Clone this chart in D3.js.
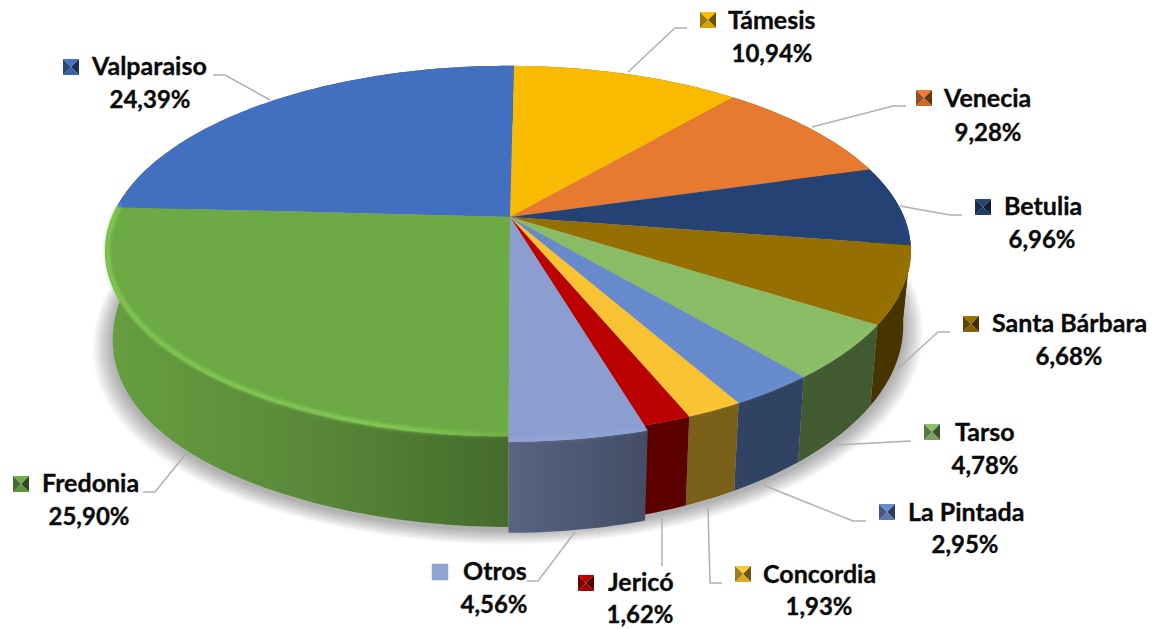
<!DOCTYPE html>
<html><head><meta charset="utf-8">
<style>html,body{margin:0;background:#fff}svg{display:block}text{font-family:Lato,"Open Sans",sans-serif;font-weight:700;fill:#0a0a0a;stroke:#0a0a0a;stroke-width:.35px}.name{font-size:25px}.value{font-size:24px}</style>
<script src="https://cdn.jsdelivr.net/npm/d3@7/dist/d3.min.js"></script>
</head><body><svg id="c" width="1163" height="629"></svg>
<script>
const categories=["Támesis","Venecia","Betulia","Santa Bárbara","Tarso","La Pintada","Concordia","Jericó","Otros","Fredonia","Valparaiso"];
const shares=[10.94,9.28,6.96,6.68,4.78,2.95,1.93,1.62,4.56,25.90,24.39];
const colors=["#ffc000","#ed7d31","#264478","#997300","#8cc168","#698ed0","#ffc733","#c00000","#8fa2d4","#70ad47","#4472c4"];
// layout of the label blocks: swatch left/top, name left/baseline, value centre/baseline, leader polyline
const labelLayout=[
 {s:[700,12],n:[728,29],v:[772,62],l:[[628,72],[675,28],[687,28]]},
 {s:[916,90],n:[944,107],v:[988,141],l:[[812,127],[893,106],[906,106]]},
 {s:[975,199],n:[1004,215],v:[1042,248],l:[[900,206],[950,215],[962,215]]},
 {s:[963,316],n:[992,332],v:[1069,365],l:[[893,373],[938,332],[950,332]]},
 {s:[924,424],n:[955,441],v:[985,474],l:[[836,445],[911,441]]},
 {s:[879,504],n:[908,521],v:[965,553],l:[[763,485],[853,521],[866,521]]},
 {s:[735,566],n:[763,583],v:[819,615],l:[[708,507],[710,583],[722,583]]},
 {s:[578,575],n:[608,591],v:[640,623],l:[[662,518],[662,566]]},
 {s:[432,564],n:[463,580],v:[494,613],l:[[575,532],[538,581],[527,581]]},
 {s:[13,476],n:[42,492],v:[89,525],l:[[188,451],[155,492],[143,492]]},
 {s:[63,59],n:[92,75],v:[150,108],l:[[270,100],[225,75],[213,75]]}
];
const EXPLODED="Otros", EXPLODE_R=1.02;

const svg=d3.select("#c"), defs=svg.append("defs");
const blur=(id,sd)=>defs.append("filter").attr("id",id).attr("x","-20%").attr("y","-20%").attr("width","140%").attr("height","140%").append("feGaussianBlur").attr("stdDeviation",sd);
blur("soft",1.5);

// perspective disks
const persp=0.184;
const topDisk={cx:508,cy:217,bx:396,ay:179,sag:0};
const botDisk={cx:508,cy:288,bx:388.5,ay:195,sag:14};
const apex=[510,217];
function proj(d,a,r){const u=r*Math.sin(a),v=-r*Math.cos(a),w=1-persp*v,su=Math.max(0,-u/w);return [d.cx+d.bx*u/w,d.cy+d.ay*v/w+d.sag*su*su*su];}
const arcPts=(d,a0,a1,r)=>{const n=Math.max(2,Math.ceil((a1-a0)/(Math.PI/180)));return d3.range(n+1).map(i=>proj(d,a0+(a1-a0)*i/n,r));};
const line=d3.line(), closed=d3.line().curve(d3.curveLinearClosed);

const pie=d3.pie().sort(null).value(d=>d.share).startAngle(Math.PI/180).endAngle(2*Math.PI+Math.PI/180);
const slices=pie(categories.map((name,i)=>({name,share:shares[i],color:colors[i],i})));
const radius=s=>s.data.name===EXPLODED?EXPLODE_R:1;

// x-dependent shading of the side wall
const wallX=[105,300,510,640,800,912];
const wallK=d3.scaleLinear().domain(wallX).range([.92,.8,.62,.48,.47,.46]);
const rimX=[105,400,510,640,912];
const rimO=d3.scaleLinear().domain(rimX).range([.9,.95,.2,.12,.12]);
const posX=d3.scaleLinear().domain([105,912]).range([0,100]);
const mul=(c,k)=>{const r=d3.rgb(c);return d3.rgb(r.r*k,r.g*k,r.b*k).formatHex();};

const grads=defs.selectAll("linearGradient.w").data(slices).join("linearGradient").attr("class","w")
 .attr("id",s=>"w"+s.data.i).attr("gradientUnits","userSpaceOnUse").attr("x1",105).attr("x2",912).attr("y1",0).attr("y2",0);
grads.selectAll("stop").data(s=>wallX.map(x=>({x,c:s.data.color}))).join("stop")
 .attr("offset",d=>posX(d.x)+"%").attr("stop-color",d=>mul(d.c,wallK(d.x)));
const rg=defs.selectAll("linearGradient.r").data(slices).join("linearGradient").attr("class","r")
 .attr("id",s=>"r"+s.data.i).attr("gradientUnits","userSpaceOnUse").attr("x1",105).attr("x2",912).attr("y1",0).attr("y2",0);
rg.selectAll("stop").data(s=>rimX.map(x=>({x,c:s.data.color}))).join("stop")
 .attr("offset",d=>posX(d.x)+"%").attr("stop-color",d=>d3.rgb(d.c).brighter(.45).formatHex()).attr("stop-opacity",d=>rimO(d.x));

// soft shadow below the pie: a stack of faint, slightly larger disks
svg.append("g").attr("transform","translate(0,3)").selectAll("path").data(d3.range(1,15)).join("path")
 .attr("d",i=>closed(arcPts(botDisk,0,2*Math.PI,1+i*.0035))).attr("fill","#000").attr("fill-opacity",.022);

const pie3d=svg.append("g");
const drawWall=s=>closed(arcPts(topDisk,s.startAngle,s.endAngle,radius(s)).concat(arcPts(botDisk,s.startAngle,s.endAngle,radius(s)).reverse()));
const drawTop=s=>closed([apex].concat(arcPts(topDisk,s.startAngle,s.endAngle,radius(s))));
const normal=slices.filter(s=>s.data.name!==EXPLODED), ex=slices.filter(s=>s.data.name===EXPLODED);
const FRONT0=Math.PI/2, FRONT1=Math.PI*1.525;

function layer(list){
 const g=pie3d.append("g");
 g.selectAll("path.wall").data(list).join("path").attr("class","wall").attr("d",drawWall).attr("fill",s=>`url(#w${s.data.i})`);
 g.selectAll("path.top").data(list).join("path").attr("class","top").attr("d",drawTop).attr("fill",s=>mul(s.data.color,.975));
 g.selectAll("path.rim").data(list.filter(s=>s.endAngle>FRONT0&&s.startAngle<FRONT1)).join("path").attr("class","rim")
  .attr("d",s=>line(arcPts(topDisk,Math.max(s.startAngle,FRONT0),Math.min(s.endAngle,FRONT1),radius(s)*.994))).attr("fill","none")
  .attr("stroke",s=>`url(#r${s.data.i})`).attr("stroke-width",4.5).attr("filter","url(#soft)");
}
// walls of the back first, front last
layer(normal.slice().sort((a,b)=>Math.abs(Math.PI-((a.startAngle+a.endAngle)/2))>Math.abs(Math.PI-((b.startAngle+b.endAngle)/2))?-1:1));
layer(ex);

// labels
const lab=svg.append("g").selectAll("g").data(slices).join("g");
lab.append("path").attr("d",s=>line(labelLayout[s.data.i].l)).attr("fill","none").attr("stroke","#b0b0b0").attr("stroke-width",1.5);
const SW=16;
const faces=[
 {pts:(x,y)=>[[x,y],[x+SW,y],[x+SW/2,y+SW/2]],f:c=>c},
 {pts:(x,y)=>[[x+SW,y],[x+SW,y+SW],[x+SW/2,y+SW/2]],f:c=>mul(c,.42)},
 {pts:(x,y)=>[[x,y+SW],[x+SW,y+SW],[x+SW/2,y+SW/2]],f:c=>mul(c,.85)},
 {pts:(x,y)=>[[x,y],[x,y+SW],[x+SW/2,y+SW/2]],f:c=>mul(c,.62)}
];
lab.selectAll("path.f").data(s=>faces.map(f=>({f,s}))).join("path").attr("class","f")
 .attr("d",d=>{const [x,y]=labelLayout[d.s.data.i].s;return closed(d.f.pts(x,y));})
 .attr("fill",d=>d.s.data.name===EXPLODED?d.s.data.color:d.f.f(d.s.data.color))
 .attr("stroke",d=>d.s.data.name===EXPLODED?d.s.data.color:"none").attr("stroke-width",.5);
lab.append("text").attr("class","name").attr("x",s=>labelLayout[s.data.i].n[0]).attr("y",s=>labelLayout[s.data.i].n[1]).text(s=>s.data.name);
const fmt=v=>v.toFixed(2).replace(".",",")+"%";
lab.append("text").attr("class","value").attr("x",s=>labelLayout[s.data.i].v[0]).attr("y",s=>labelLayout[s.data.i].v[1]).attr("text-anchor","middle").text(s=>fmt(s.data.share));
</script></body></html>
